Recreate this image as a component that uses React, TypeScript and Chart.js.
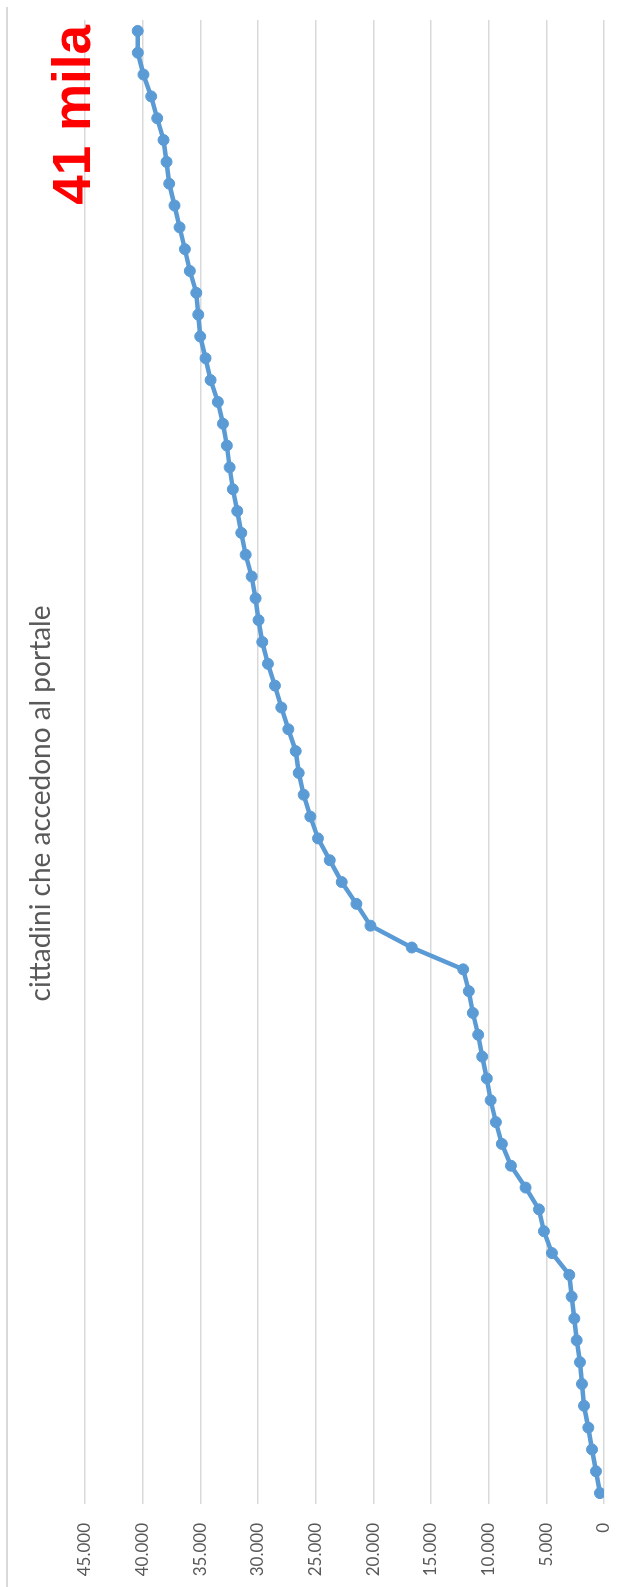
import { useEffect, useRef } from 'react';
import { Chart, registerables } from 'chart.js';

Chart.register(...registerables);

// one point per day, oldest first
const CATEGORIES = [
  '1', '2', '3', '4', '5', '6', '7', '8', '9', '10',
  '11', '12', '13', '14', '15', '16', '17', '18', '19', '20',
  '21', '22', '23', '24', '25', '26', '27', '28', '29', '30',
  '31', '32', '33', '34', '35', '36', '37', '38', '39', '40',
  '41', '42', '43', '44', '45', '46', '47', '48', '49', '50',
  '51', '52', '53', '54', '55', '56', '57', '58', '59', '60',
  '61', '62', '63', '64', '65', '66', '67', '68',
];

const ACCESSI = [
  350, 695, 1040, 1360, 1735, 1910, 2085, 2370, 2575, 2805,
  3010, 4515, 5210, 5640, 6800, 8070, 8855, 9375, 9830, 10160,
  10560, 10910, 11370, 11720, 12210, 16670, 20250, 21470, 22740, 23780,
  24800, 25460, 26040, 26470, 26730, 27370, 27980, 28530, 29140, 29630,
  29950, 30210, 30550, 31070, 31450, 31800, 32180, 32460, 32700, 33040,
  33480, 34110, 34550, 35010, 35180, 35350, 35910, 36340, 36800, 37240,
  37700, 37930, 38190, 38740, 39260, 39930, 40420, 40430,
];

const VALUE_TICKS = ['0', '5.000', '10.000', '15.000', '20.000', '25.000', '30.000', '35.000', '40.000', '45.000'];

const TITLE = 'cittadini che accedono al portale';
const BADGE = '41 mila';

// the chart is laid out landscape, then turned a quarter left
const W = 1587;
const H = 621;

const PALETTE = {
  line: '#5B9BD5',
  grid: '#d9d9d9',
  text: '#595959',
  badge: '#ff0000',
} as const;

const badgePlugin = {
  id: 'badge',
  afterDraw(chart: Chart) {
    const { ctx } = chart;
    ctx.save();
    ctx.font = 'bold 53px "Liberation Sans", Arial, sans-serif';
    ctx.fillStyle = PALETTE.badge;
    ctx.textAlign = 'right';
    ctx.textBaseline = 'alphabetic';
    ctx.fillText(BADGE, 1562, 90);
    ctx.restore();
  },
};

export default function App() {
  const canvasRef = useRef<HTMLCanvasElement>(null);

  useEffect(() => {
    if (!canvasRef.current) return;
    const chart = new Chart(canvasRef.current, {
      type: 'line',
      data: {
        labels: CATEGORIES,
        datasets: [
          {
            data: ACCESSI,
            borderColor: PALETTE.line,
            backgroundColor: PALETTE.line,
            borderWidth: 4.5,
            pointRadius: 5.5,
            pointBorderWidth: 1,
            pointBackgroundColor: PALETTE.line,
            pointBorderColor: PALETTE.line,
            tension: 0,
          },
        ],
      },
      options: {
        responsive: false,
        animation: false,
        devicePixelRatio: 1,
        layout: { padding: { left: 0, right: 20, top: 0, bottom: 17 } },
        plugins: {
          legend: { display: false },
          tooltip: { enabled: false },
          title: {
            display: true,
            text: TITLE,
            color: PALETTE.text,
            font: { family: 'Lato', size: 28, weight: 'normal' },
            padding: { top: 24, bottom: 27.4 },
          },
        },
        scales: {
          x: {
            display: false,
            offset: true,
          },
          y: {
            min: 0,
            max: 45000,
            border: { display: false },
            grid: { color: PALETTE.grid, lineWidth: 1.5, drawTicks: false },
            ticks: {
              stepSize: 5000,
              padding: 19,
              color: PALETTE.text,
              font: { family: 'Lato', size: 17 },
              callback: (_value, index) => VALUE_TICKS[index],
            },
            afterFit: (scale) => {
              // fixed axis width, and no extra room taken at the ends
              scale.width = 83;
              scale.paddingTop = 0;
              scale.paddingBottom = 0;
            },
          },
        },
      },
      plugins: [badgePlugin],
    });
    return () => chart.destroy();
  }, []);

  return (
    <div style={{ position: 'fixed', left: 0, top: 0, width: H, height: W, overflow: 'hidden', background: '#fff' }}>
      <div
        style={{
          position: 'absolute',
          left: 0,
          top: 0,
          width: W,
          height: H,
          transformOrigin: '0 0',
          transform: `translateY(${W}px) rotate(-90deg)`,
        }}
      >
        <div style={{ position: 'absolute', left: 0, top: 6, width: 1580, height: 1.5, background: PALETTE.grid }} />
        <canvas ref={canvasRef} width={W} height={H} style={{ display: 'block', width: W, height: H }} />
      </div>
    </div>
  );
}
